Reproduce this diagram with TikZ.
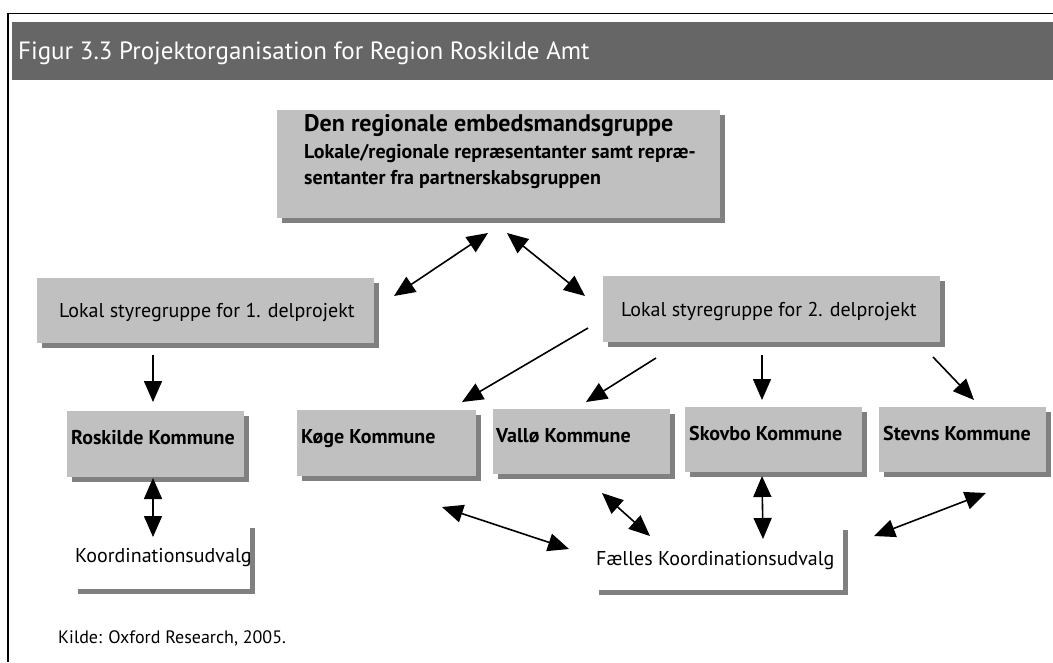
\documentclass[tikz,border=0pt]{standalone}
\usepackage{fontspec}
\setmainfont{PT Sans}
\usetikzlibrary{arrows.meta,shadows}
\definecolor{boxgray}{HTML}{C0C0C0}
\definecolor{shadowgray}{HTML}{808080}
\definecolor{titlegray}{HTML}{666666}
\begin{document}
\begin{tikzpicture}[x=1pt,y=-1pt,
  box/.style={fill=boxgray, draw=none, anchor=north west, inner sep=0pt,
    drop shadow={shadow xshift=5pt, shadow yshift=-5pt, fill=shadowgray, opacity=1}},
  txt/.style={anchor=base west, inner sep=0pt, font=\fontsize{20}{24}\selectfont},
  btxt/.style={anchor=base west, inner sep=0pt, font=\fontsize{20}{24}\selectfont\bfseries},
  tip/.tip={Triangle[length=21pt,width=18pt]},
  conn/.style={line width=1.6pt, -tip},
  dconn/.style={line width=1.6pt, tip-tip},
  lshape/.style={draw=shadowgray, line width=5pt}
]
\useasboundingbox (0,0) rectangle (1053,662);
\fill[white] (0,0) rectangle (1053,662);
% frame
\draw[line width=1.6pt] (1053,13.5) -- (8,13.5) -- (8,662);
% title bar
\fill[titlegray] (12,22) rectangle (1053,80);
\node[anchor=base west, inner sep=0pt, text=white, font=\fontsize{25}{29}\selectfont] (title) at (18,59) {Figur 3.3 Projektorganisation for Region Roskilde Amt};

% boxes
\node[box, minimum width=443pt, minimum height=108pt] (top) at (277,110) {};
\node[box, minimum width=337pt, minimum height=65pt] (l1) at (37,278) {};
\node[box, minimum width=337pt, minimum height=66pt] (l2) at (603,276) {};
\node[box, minimum width=177pt, minimum height=66pt] (ros) at (67,411) {};
\node[box, minimum width=179pt, minimum height=66pt] (koge) at (297,410) {};
\node[box, minimum width=177pt, minimum height=65pt] (vallo) at (493,409) {};
\node[box, minimum width=177pt, minimum height=65pt] (skovbo) at (685,407) {};
\node[box, minimum width=167pt, minimum height=65pt] (stevns) at (879,407) {};

% texts
\node[anchor=base west, inner sep=0pt, font=\fontsize{24}{28}\selectfont\bfseries] (toph) at (304,131) {Den regionale embedsmandsgruppe};
\node[btxt] (topl2) at (304,158) {Lokale/regionale repræsentanter samt repræ-};
\node[btxt] (topl3) at (304,184) {sentanter fra partnerskabsgruppen};
\node[txt] (l1t) at (59,317) {Lokal styregruppe for 1. delprojekt};
\node[txt] (l2t) at (621,316) {Lokal styregruppe for 2. delprojekt};
\node[btxt] (rost) at (71,444) {Roskilde Kommune};
\node[btxt] (koget) at (301,443) {Køge Kommune};
\node[btxt] (vallot) at (496,442) {Vallø Kommune};
\node[btxt] (skovbot) at (689,440) {Skovbo Kommune};
\node[btxt] (stevnst) at (883,440) {Stevns Kommune};
\node[txt] (koord) at (75,562) {Koordinationsudvalg};
\node[txt] (faelles) at (596,565) {Fælles Koordinationsudvalg};
\node[anchor=base west, inner sep=0pt, font=\fontsize{18}{22}\selectfont] (kilde) at (58,643) {Kilde: Oxford Research, 2005.};

% L-shapes
\draw[lshape] (252,528) -- (252,591) -- (78,591);
\draw[lshape] (845,530) -- (845,592) -- (599,592);

% arrow end points
\coordinate (a1s) at (488,233); \coordinate (a1e) at (394,296);
\coordinate (a2s) at (507,233); \coordinate (a2e) at (585,296);
\coordinate (a3s) at (153,355); \coordinate (a3e) at (153,402);
\coordinate (a4s) at (588,328); \coordinate (a4e) at (462,402);
\coordinate (a5s) at (656,358); \coordinate (a5e) at (586,402);
\coordinate (a6s) at (762,355); \coordinate (a6e) at (762,400);
\coordinate (a7s) at (933,357); \coordinate (a7e) at (974,400);
\coordinate (b1s) at (153,478); \coordinate (b1e) at (153,537);
\coordinate (b2s) at (442,507); \coordinate (b2e) at (569,549);
\coordinate (b3s) at (602,493); \coordinate (b3e) at (650,536);
\coordinate (b4s) at (762,476); \coordinate (b4e) at (763,539);
\coordinate (b5s) at (986,493); \coordinate (b5e) at (874,536);

\draw[dconn] (a1s) -- (a1e);
\draw[dconn] (a2s) -- (a2e);
\draw[conn] (a3s) -- (a3e);
\draw[conn] (a4s) -- (a4e);
\draw[conn] (a5s) -- (a5e);
\draw[conn] (a6s) -- (a6e);
\draw[conn] (a7s) -- (a7e);
\draw[dconn] (b1s) -- (b1e);
\draw[dconn] (b2s) -- (b2e);
\draw[dconn] (b3s) -- (b3e);
\draw[dconn] (b4s) -- (b4e);
\draw[dconn] (b5s) -- (b5e);
\end{tikzpicture}
\end{document}
